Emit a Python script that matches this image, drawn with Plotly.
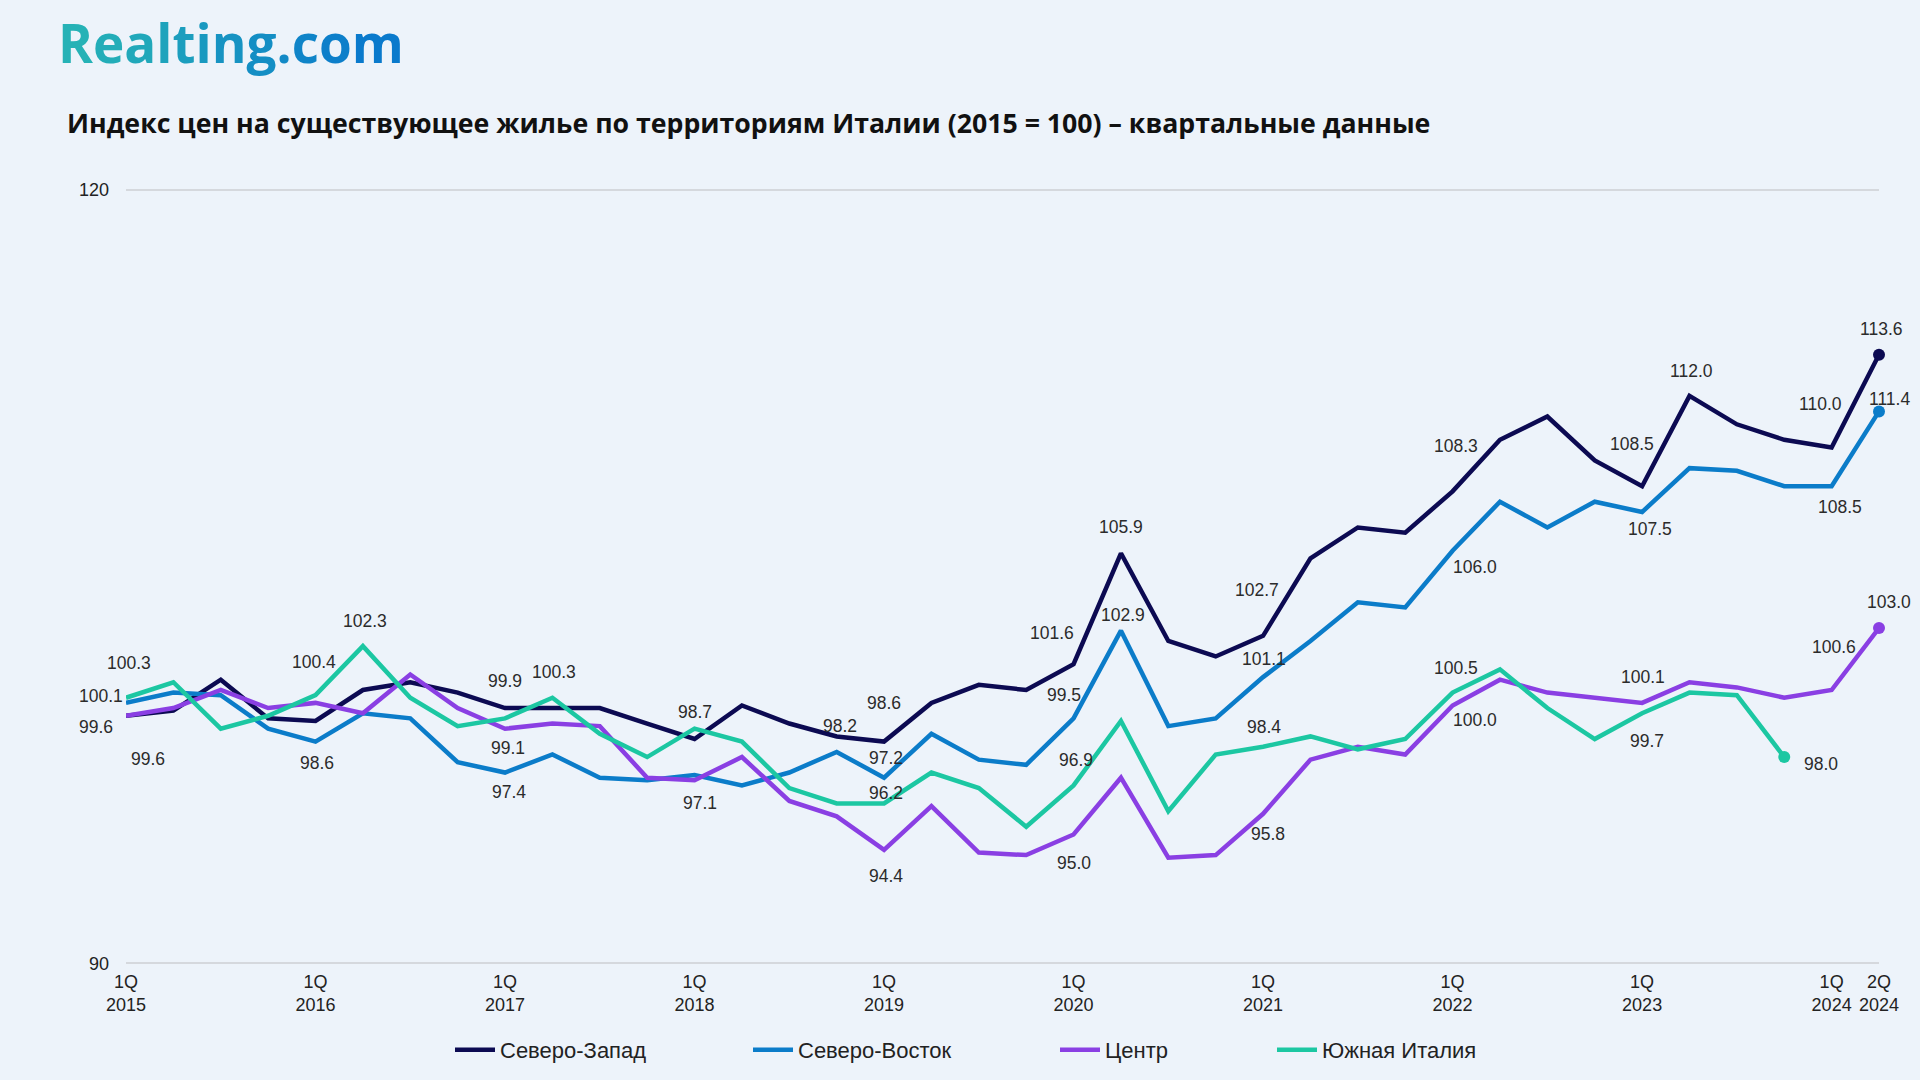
import plotly.graph_objects as go

# ---------------- data ----------------
quarters = [f"{q}Q {y}" for y in range(2015, 2025) for q in range(1, 5)][:38]
tick_idx = [0, 4, 8, 12, 16, 20, 24, 28, 32, 36, 37]
tick_text = ["1Q<br>2015", "1Q<br>2016", "1Q<br>2017", "1Q<br>2018", "1Q<br>2019",
             "1Q<br>2020", "1Q<br>2021", "1Q<br>2022", "1Q<br>2023", "1Q<br>2024", "2Q<br>2024"]
y_ticks = [90, 120]

north_west = [99.6, 99.8, 101.0, 99.5, 99.4, 100.6, 100.9, 100.5, 99.9, 99.9,
              99.9, 99.3, 98.7, 100.0, 99.3, 98.8, 98.6, 100.1, 100.8, 100.6,
              101.6, 105.9, 102.5, 101.9, 102.7, 105.7, 106.9, 106.7, 108.3, 110.3,
              111.2, 109.5, 108.5, 112.0, 110.9, 110.3, 110.0, 113.6]
north_east = [100.1, 100.5, 100.4, 99.1, 98.6, 99.7, 99.5, 97.8, 97.4, 98.1,
              97.2, 97.1, 97.3, 96.9, 97.4, 98.2, 97.2, 98.9, 97.9, 97.7,
              99.5, 102.9, 99.2, 99.5, 101.1, 102.5, 104.0, 103.8, 106.0, 107.9,
              106.9, 107.9, 107.5, 109.2, 109.1, 108.5, 108.5, 111.4]
centre = [99.6, 99.9, 100.6, 99.9, 100.1, 99.7, 101.2, 99.9, 99.1, 99.3,
          99.2, 97.2, 97.1, 98.0, 96.3, 95.7, 94.4, 96.1, 94.3, 94.2,
          95.0, 97.2, 94.1, 94.2, 95.8, 97.9, 98.4, 98.1, 100.0, 101.0,
          100.5, 100.3, 100.1, 100.9, 100.7, 100.3, 100.6, 103.0]
south = [100.3, 100.9, 99.1, 99.6, 100.4, 102.3, 100.3, 99.2, 99.5, 100.3,
         98.9, 98.0, 99.1, 98.6, 96.8, 96.2, 96.2, 97.4, 96.8, 95.3,
         96.9, 99.4, 95.9, 98.1, 98.4, 98.8, 98.3, 98.7, 100.5, 101.4,
         99.9, 98.7, 99.7, 100.5, 100.4, 98.0, None, None]

names = ["Северо-Запад", "Северо-Восток", "Центр", "Южная Италия"]
series = [north_west, north_east, centre, south]

# ---------------- style ----------------
colors = ["#0c0a52", "#0b7cc9", "#8a3fe3", "#1cc7a2"]
BG = "#edf3fa"
FONT = "Liberation Sans, Arial, sans-serif"
LABEL_FONT = dict(family=FONT, size=17.5, color="#2b2b2b")
legend_left_px = [450, 748, 1055, 1272]   # left edge of each legend entry (px)

# labelled points: (series index, point index, x offset px, y offset px (down +))
label_spec = [
    (0, 0, 22, 43), (0, 8, 0, -27), (0, 12, 0, -27), (0, 16, 0, -39), (0, 20, -22, -31),
    (0, 21, 0, -26), (0, 24, -6, -46), (0, 28, 3, -45), (0, 32, -10, -42), (0, 33, 2, -25),
    (0, 36, -11, -44), (0, 37, 2, -26),
    (1, 0, -25, -7), (1, 4, 1, 21), (1, 8, 4, 19), (1, 15, 3, -26), (1, 16, 2, -20),
    (1, 20, -10, -23), (1, 21, 2, -16), (1, 24, 1, -18), (1, 28, 22, 16), (1, 32, 8, 17),
    (1, 36, 8, 21), (1, 37, 10, -12),
    (2, 0, -30, 11), (2, 8, 3, 19), (2, 12, 5, 23), (2, 16, 2, 26), (2, 20, 0, 29),
    (2, 24, 5, 20), (2, 28, 22, 15), (2, 32, 1, -26), (2, 36, 2, -43), (2, 37, 10, -26),
    (3, 0, 3, -35), (3, 4, -2, -33), (3, 5, 2, -25), (3, 9, 2, -26), (3, 16, 2, -10),
    (3, 20, 2, -25), (3, 24, 1, -20), (3, 28, 3, -25), (3, 32, 5, 28), (3, 35, 37, 7),
]

x_idx = list(range(len(quarters)))
legend_ids = ["legend", "legend2", "legend3", "legend4"]

fig = go.Figure()
for name, vals, col, lid in zip(names, series, colors, legend_ids):
    fig.add_trace(go.Scatter(
        x=x_idx, y=vals, name=name, mode="lines", legend=lid,
        line=dict(color=col, width=4.5), hoverinfo="skip",
    ))
for name, vals, col in zip(names, series, colors):
    last = max(i for i, v in enumerate(vals) if v is not None)
    fig.add_trace(go.Scatter(
        x=[x_idx[last]], y=[vals[last]], mode="markers", showlegend=False,
        marker=dict(color=col, size=12), cliponaxis=False, hoverinfo="skip",
    ))

for s, i, dx, dy in label_spec:
    v = series[s][i]
    fig.add_annotation(x=x_idx[i], y=v, text=f"{v:.1f}", showarrow=False,
                       xshift=dx, yshift=-dy, font=LABEL_FONT,
                       xanchor="center", yanchor="middle")

# logo with per-letter gradient
logo = "Realting.com"
c0, c1 = (38, 178, 182), (10, 122, 204)
spans = []
for k, ch in enumerate(logo):
    t = k / (len(logo) - 1)
    r, g, b = (round(a + (bb - a) * t) for a, bb in zip(c0, c1))
    spans.append(f"<span style='color:rgb({r},{g},{b})'>{ch}</span>")
fig.add_annotation(xref="paper", yref="paper", x=-0.040, y=1.186,
                   xanchor="left", yanchor="middle", showarrow=False,
                   text="<b>" + "".join(spans) + "</b>",
                   font=dict(family="Open Sans, sans-serif", size=53))

legend_common = dict(
    orientation="h", xref="container", yref="container",
    xanchor="left", y=1 - 1050 / 1080, yanchor="middle",
    font=dict(family=FONT, size=22, color="#222222"),
    bgcolor="rgba(0,0,0,0)", itemwidth=40,
)
legends = {lid: dict(legend_common, x=px / 1920) for lid, px in zip(legend_ids, legend_left_px)}

fig.update_layout(
    width=1920, height=1080,
    paper_bgcolor=BG, plot_bgcolor=BG,
    margin=dict(l=126, r=41, t=187, b=114),
    title=dict(
        text="<b>Индекс цен на существующее жилье по территориям Италии (2015 = 100) – квартальные данные</b>",
        x=67 / 1920, xanchor="left", xref="container",
        y=1 - 124 / 1080, yanchor="middle", yref="container",
        font=dict(family="Open Sans, sans-serif", size=26.7, color="#111111"),
    ),
    xaxis=dict(
        range=[0, 37], tickvals=[x_idx[i] for i in tick_idx], ticktext=tick_text,
        showgrid=False, zeroline=False, showline=False, ticks="", ticklabelstandoff=3,
        tickfont=dict(family=FONT, size=18, color="#222222"),
    ),
    yaxis=dict(
        range=[y_ticks[0] - 0.1, y_ticks[-1] + 0.1], tickvals=y_ticks, showgrid=True,
        gridcolor="#d5d8dd", gridwidth=1.5, zeroline=False, showline=False, ticks="",
        ticklabelstandoff=16,
        tickfont=dict(family=FONT, size=18, color="#222222"),
    ),
    showlegend=True,
    **legends,
)

fig.write_html(
    "out.html",
    config={"displayModeBar": False},
    post_script="document.body.style.margin='0';document.body.style.background='%s';" % BG,
)
